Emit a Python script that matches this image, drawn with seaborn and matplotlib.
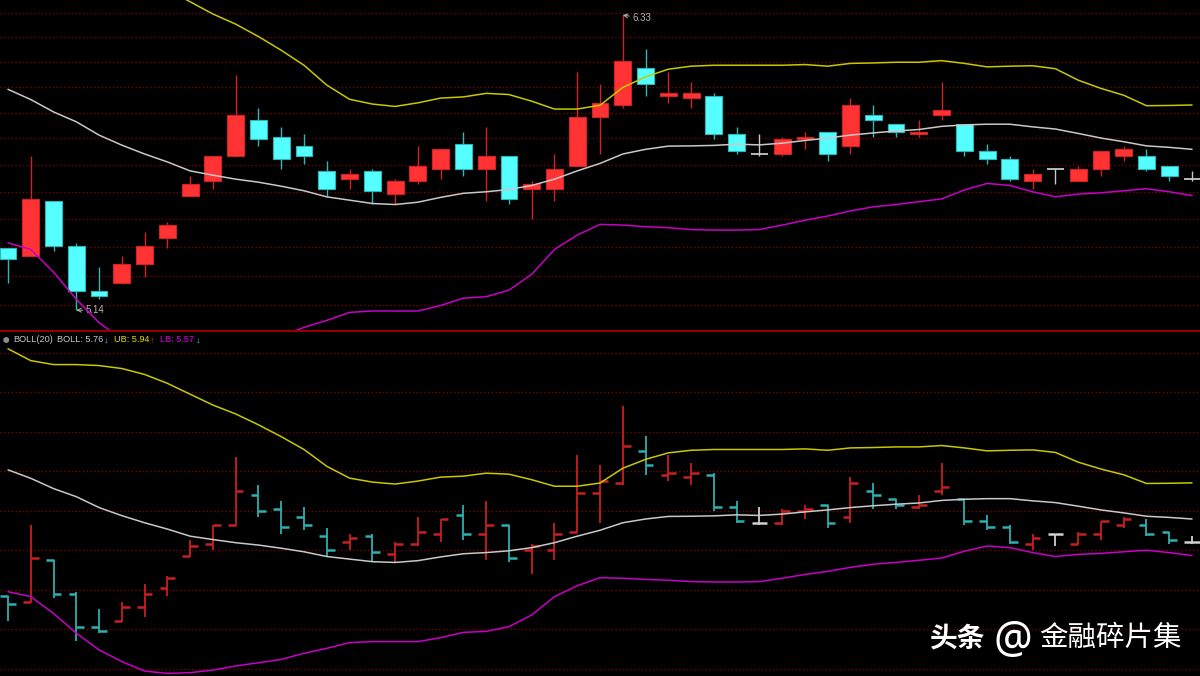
import numpy as np
import pandas as pd
import seaborn as sns
import matplotlib.pyplot as plt
from matplotlib.ticker import NullLocator

# daily OHLC (53 sessions)
opens = [5.37, 5.34, 5.55, 5.38, 5.21, 5.24, 5.31, 5.41, 5.57, 5.63,
         5.73, 5.88, 5.81, 5.77, 5.67, 5.64, 5.67, 5.58, 5.63, 5.68,
         5.78, 5.68, 5.73, 5.60, 5.60, 5.69, 5.89, 5.94, 6.10, 5.98,
         5.97, 5.98, 5.82, 5.74, 5.74, 5.80, 5.83, 5.77, 5.90, 5.86,
         5.82, 5.90, 5.86, 5.75, 5.72, 5.63, 5.68, 5.63, 5.68, 5.73,
         5.73, 5.69, 5.64]
highs = [5.37, 5.73, 5.55, 5.39, 5.30, 5.34, 5.43, 5.47, 5.65, 5.73,
         6.07, 5.93, 5.85, 5.82, 5.71, 5.68, 5.68, 5.64, 5.77, 5.76,
         5.83, 5.85, 5.73, 5.63, 5.74, 6.08, 6.03, 6.33, 6.18, 6.08,
         6.04, 5.99, 5.85, 5.82, 5.81, 5.83, 5.83, 5.97, 5.94, 5.86,
         5.88, 6.04, 5.86, 5.78, 5.73, 5.68, 5.68, 5.69, 5.75, 5.77,
         5.76, 5.69, 5.67]
lows = [5.24, 5.34, 5.36, 5.14, 5.18, 5.24, 5.26, 5.37, 5.57, 5.60,
        5.73, 5.77, 5.68, 5.70, 5.57, 5.60, 5.54, 5.54, 5.62, 5.64,
        5.65, 5.55, 5.54, 5.48, 5.55, 5.69, 5.74, 5.93, 5.98, 5.95,
        5.93, 5.80, 5.74, 5.73, 5.73, 5.76, 5.71, 5.74, 5.81, 5.81,
        5.81, 5.88, 5.73, 5.70, 5.63, 5.60, 5.62, 5.63, 5.65, 5.71,
        5.67, 5.63, 5.63]
closes = [5.33, 5.56, 5.38, 5.21, 5.19, 5.31, 5.38, 5.46, 5.62, 5.73,
          5.90, 5.80, 5.72, 5.73, 5.60, 5.66, 5.59, 5.63, 5.69, 5.76,
          5.68, 5.73, 5.56, 5.62, 5.68, 5.89, 5.95, 6.13, 6.03, 5.99,
          5.99, 5.82, 5.75, 5.74, 5.80, 5.81, 5.74, 5.94, 5.88, 5.83,
          5.83, 5.92, 5.75, 5.72, 5.64, 5.66, 5.68, 5.68, 5.75, 5.76,
          5.68, 5.65, 5.64]

# BOLL(20) lines
boll_mid = [6.007, 5.964, 5.912, 5.871, 5.816, 5.775, 5.739, 5.707, 5.671, 5.654,
            5.638, 5.626, 5.610, 5.592, 5.568, 5.555, 5.542, 5.538, 5.547, 5.566,
            5.582, 5.588, 5.597, 5.613, 5.638, 5.671, 5.701, 5.739, 5.758, 5.771,
            5.772, 5.774, 5.779, 5.776, 5.783, 5.794, 5.804, 5.816, 5.825, 5.833,
            5.839, 5.852, 5.858, 5.861, 5.861, 5.850, 5.841, 5.823, 5.804, 5.789,
            5.772, 5.766, 5.758]
boll_ub = [6.62, 6.56, 6.54, 6.54, 6.535, 6.52, 6.49, 6.445, 6.39, 6.335,
           6.29, 6.235, 6.175, 6.11, 6.025, 5.965, 5.945, 5.935, 5.95, 5.97,
           5.975, 5.99, 5.985, 5.957, 5.924, 5.924, 5.94, 6.015, 6.06, 6.093,
           6.106, 6.11, 6.11, 6.11, 6.11, 6.113, 6.106, 6.118, 6.12, 6.123,
           6.123, 6.13, 6.118, 6.103, 6.106, 6.108, 6.095, 6.046, 6.011, 5.982,
           5.938, 5.939, 5.941]
boll_lb = [5.39, 5.365, 5.28, 5.18, 5.095, 5.036, 4.988, 4.976, 4.98, 4.993,
           5.014, 5.03, 5.047, 5.078, 5.103, 5.132, 5.137, 5.137, 5.137, 5.157,
           5.184, 5.189, 5.213, 5.272, 5.365, 5.42, 5.461, 5.458, 5.452, 5.448,
           5.441, 5.439, 5.439, 5.441, 5.458, 5.477, 5.493, 5.513, 5.529, 5.538,
           5.549, 5.560, 5.595, 5.621, 5.613, 5.588, 5.568, 5.579, 5.584, 5.592,
           5.600, 5.588, 5.573]

top_grid = np.linspace(5.158, 6.339, 12)
bottom_grid = [5.0, 5.2, 5.4, 5.6, 5.8, 6.0, 6.2, 6.4, 6.6]

df = pd.DataFrame({'open': opens, 'high': highs, 'low': lows, 'close': closes,
                   'mid': boll_mid, 'ub': boll_ub, 'lb': boll_lb})
df['day'] = np.arange(len(df))
df['kind'] = np.where(df['close'] > df['open'], 'up',
                      np.where(df['close'] < df['open'], 'down', 'flat'))

body_col = {'up': '#ff3333', 'down': '#55ffff', 'flat': '#c8c8c8'}
edge_col = {'up': '#d42222', 'down': '#2cb8b8', 'flat': '#c8c8c8'}
bar_col = {'up': '#c82020', 'down': '#2cb0b0', 'flat': '#d0d0d0'}
band_col = {'ub': '#c8c800', 'mid': '#c8c8c8', 'lb': '#c800c8'}

sns.set_style('dark', rc={'axes.facecolor': 'black', 'figure.facecolor': 'black'})
plt.rcParams['font.family'] = ['Liberation Sans', 'DejaVu Sans']

W, H = 1200, 676
fig = plt.figure(figsize=(12, 6.76), dpi=100)
ax1 = fig.add_axes([0, 345 / H, 1, 331 / H])
ax2 = fig.add_axes([0, 0, 1, 345 / H])

xlim = (-0.351, 52.35)

# ---- top panel: candlesticks on log price axis ----
ax1.set_yscale('log')
ax1.vlines(df['day'], df['low'], df['high'], colors=[edge_col[k] for k in df['kind']],
           lw=1.0, zorder=2)
real = df[df['kind'] != 'flat']
ax1.bar(real['day'], (real['close'] - real['open']).abs(),
        bottom=real[['open', 'close']].min(axis=1), width=0.74,
        color=[body_col[k] for k in real['kind']],
        edgecolor=[edge_col[k] for k in real['kind']], lw=0.8, zorder=3)
flat = df[df['kind'] == 'flat']
ax1.hlines(flat['close'], flat['day'] - 0.37, flat['day'] + 0.37,
           colors=body_col['flat'], lw=1.3, zorder=3)
for col in ['ub', 'mid', 'lb']:
    sns.lineplot(data=df, x='day', y=col, ax=ax1, color=band_col[col], lw=1.1, zorder=4)

ax1.set_ylim(5.065, 6.398)
ax1.set_yticks(top_grid)
ax1.yaxis.set_minor_locator(NullLocator())

hi = df['high'].idxmax()
lo = df['low'].idxmin()
ax1.annotate(f"{df['high'][hi]:.2f}", xy=(hi, df['high'][hi]), xytext=(7, -2),
             textcoords='offset points', va='center', ha='left', fontsize=7,
             color='#b4b4b4',
             arrowprops=dict(arrowstyle='->', color='#b4b4b4', lw=0.7, shrinkA=0, shrinkB=0))
ax1.annotate(f"{df['low'][lo]:.2f}", xy=(lo, df['low'][lo]), xytext=(7, 0),
             textcoords='offset points', va='center', ha='left', fontsize=7,
             color='#b4b4b4',
             arrowprops=dict(arrowstyle='->', color='#b4b4b4', lw=0.7, shrinkA=0, shrinkB=0))

# ---- bottom panel: BOLL window with OHLC bars ----
ax2.vlines(df['day'], df['low'], df['high'], colors=[bar_col[k] for k in df['kind']],
           lw=1.3, zorder=2)
ax2.hlines(df['open'], df['day'] - 0.34, df['day'], colors=[bar_col[k] for k in df['kind']],
           lw=1.8, zorder=2)
ax2.hlines(df['close'], df['day'], df['day'] + 0.34, colors=[bar_col[k] for k in df['kind']],
           lw=1.8, zorder=2)
for col in ['ub', 'mid', 'lb']:
    sns.lineplot(data=df, x='day', y=col, ax=ax2, color=band_col[col], lw=1.1, zorder=4)
ax2.set_ylim(4.963, 6.71)
ax2.set_yticks(bottom_grid)

for ax in (ax1, ax2):
    ax.set_xlim(*xlim)
    ax.grid(axis='y', color='#8a0000', lw=0.9, ls=(0, (1, 2)))
    ax.grid(axis='x', visible=False)
    ax.set_xlabel('')
    ax.set_ylabel('')
    ax.tick_params(left=False, bottom=False, labelleft=False, labelbottom=False)
    for s in ax.spines.values():
        s.set_visible(False)
ax2.spines['top'].set_visible(True)
ax2.spines['top'].set_color('#900000')
ax2.spines['top'].set_linewidth(1.5)

# ---- indicator caption row ----
ty = 1 - 340 / H
lab = 6.6
fig.text(6 / W, ty, '●', color='#8c8c8c', fontsize=10, va='center', ha='center')
fig.text(13 / W, ty, 'BOLL(20)', color='#c8c8c8', fontsize=lab, va='center')
fig.text(57 / W, ty, f'BOLL: {boll_mid[-1]:.2f}', color='#c8c8c8', fontsize=lab, va='center')
fig.text(104 / W, ty, '↓', color='#40d0ff', fontsize=lab, va='center')
fig.text(114 / W, ty, f'UB: {boll_ub[-1]:.2f}', color='#e0e000', fontsize=lab, va='center')
fig.text(150 / W, ty, '↑', color='#ff2020', fontsize=lab, va='center')
fig.text(160 / W, ty, f'LB: {boll_lb[-1]:.2f}', color='#e000e0', fontsize=lab, va='center')
fig.text(196 / W, ty, '↓', color='#40d0ff', fontsize=lab, va='center')

# watermark
cjk = ['Noto Sans CJK SC', 'DejaVu Sans']
fig.text(930 / W, 1 - 638 / H, '头条', color='white', fontsize=20, fontweight='bold',
         family=cjk, va='center')
fig.text(993 / W, 1 - 641 / H, '@', color='white', fontsize=31,
         family=['Noto Sans', 'DejaVu Sans'], va='center')
fig.text(1039 / W, 1 - 638 / H, '金融碎片集', color='white', fontsize=20.5,
         family=cjk, va='center')

fig.savefig('out.png', dpi=100, facecolor='black')
